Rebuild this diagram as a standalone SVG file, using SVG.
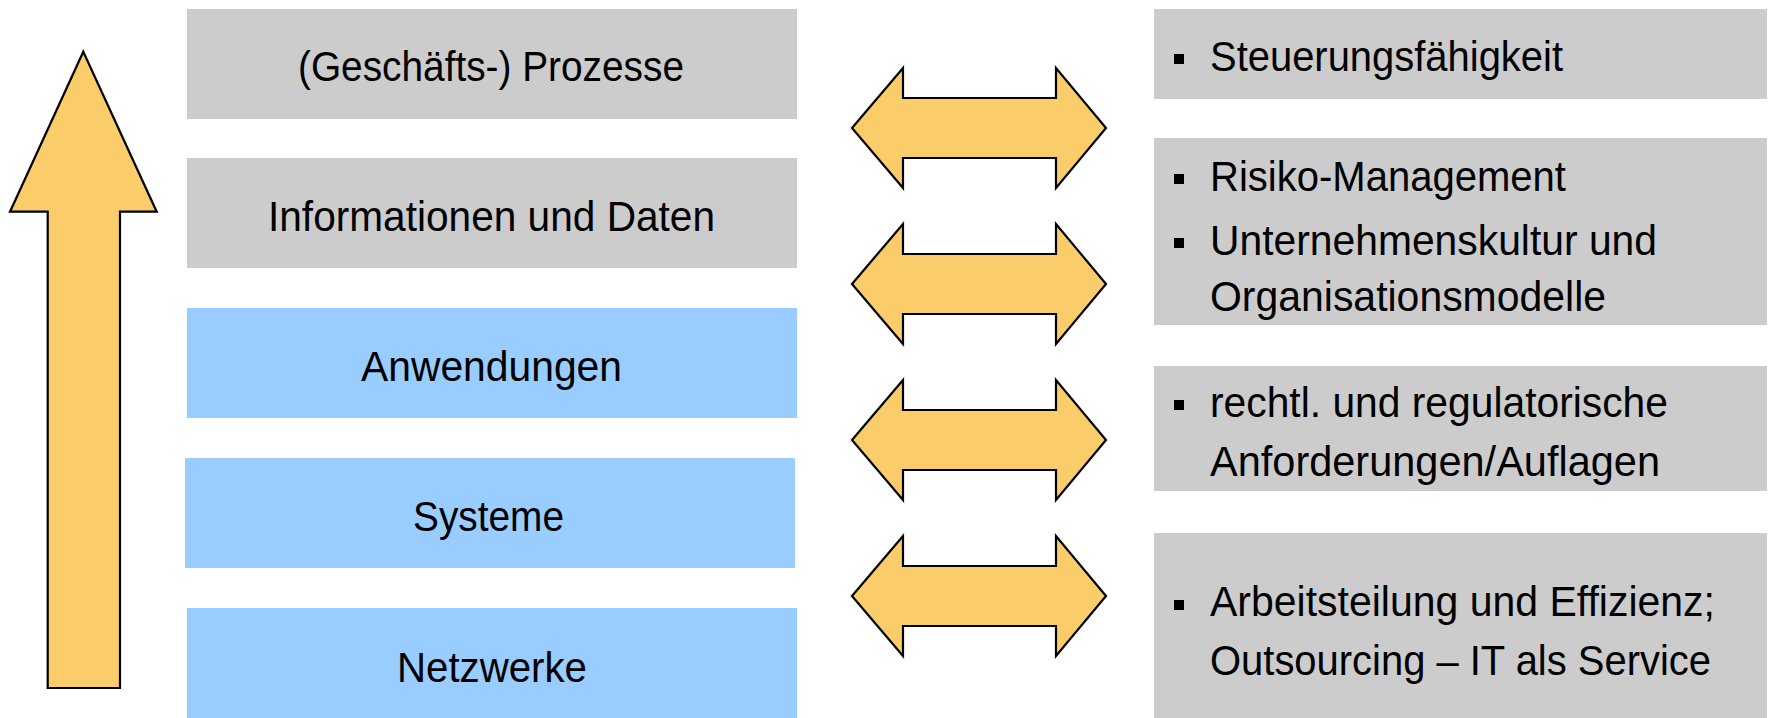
<svg xmlns="http://www.w3.org/2000/svg" width="1770" height="718" viewBox="0 0 1770 718">
<style>
.gray{fill:#CCCCCC}
.blue{fill:#99CCFF}
.arr{fill:#FBCD6A;stroke:#000;stroke-width:2.2;stroke-linejoin:miter}
.t{font-family:"Liberation Sans",Arial,sans-serif;font-size:42px;fill:#000}
.c{text-anchor:middle}
.b{fill:#000}
</style>
<rect width="1770" height="718" fill="#FFFFFF"/>
<g id="up-arrow">
<path class="arr" d="M83.3,51.7 L156.7,211.7 L120,211.7 L120,688 L47.7,688 L47.7,211.7 L10,211.7 Z"/>
</g>
<g id="prozesse">
<rect class="gray" x="187" y="9" width="610" height="110"/>
<text class="t c" x="491" y="80.5" textLength="386" lengthAdjust="spacingAndGlyphs">(Geschäfts-) Prozesse</text>
</g>
<g id="informationen">
<rect class="gray" x="187" y="158" width="610" height="110"/>
<text class="t c" x="491.5" y="231" textLength="447" lengthAdjust="spacingAndGlyphs">Informationen und Daten</text>
</g>
<g id="anwendungen">
<rect class="blue" x="187" y="308" width="610" height="110"/>
<text class="t c" x="491.5" y="380.5" textLength="261" lengthAdjust="spacingAndGlyphs">Anwendungen</text>
</g>
<g id="systeme">
<rect class="blue" x="185" y="458" width="610" height="110"/>
<text class="t c" x="488.5" y="530.5" textLength="151" lengthAdjust="spacingAndGlyphs">Systeme</text>
</g>
<g id="netzwerke">
<rect class="blue" x="187" y="608" width="610" height="110"/>
<text class="t c" x="492" y="681.5" textLength="190" lengthAdjust="spacingAndGlyphs">Netzwerke</text>
</g>
<g id="connectors">
<path class="arr" d="M852,128 L903,68 L903,98 L1056,98 L1056,68 L1106,128 L1056,188 L1056,158 L903,158 L903,188 Z"/>
<path class="arr" d="M852,284 L903,224 L903,254 L1056,254 L1056,224 L1106,284 L1056,344 L1056,314 L903,314 L903,344 Z"/>
<path class="arr" d="M852,440 L903,380 L903,410 L1056,410 L1056,380 L1106,440 L1056,500 L1056,470 L903,470 L903,500 Z"/>
<path class="arr" d="M852,596 L903,536 L903,566 L1056,566 L1056,536 L1106,596 L1056,656 L1056,626 L903,626 L903,656 Z"/>
</g>
<g id="steuerung">
<rect class="gray" x="1154" y="9" width="613" height="90"/>
<rect class="b" x="1174" y="54" width="10" height="10"/>
<text class="t" x="1210" y="70.5" textLength="353" lengthAdjust="spacingAndGlyphs">Steuerungsfähigkeit</text>
</g>
<g id="risiko">
<rect class="gray" x="1154" y="138" width="613" height="187"/>
<rect class="b" x="1174" y="174" width="10" height="10"/>
<text class="t" x="1210" y="190.5" textLength="356" lengthAdjust="spacingAndGlyphs">Risiko-Management</text>
<rect class="b" x="1174" y="238" width="10" height="10"/>
<text class="t" x="1210" y="254.5" textLength="447" lengthAdjust="spacingAndGlyphs">Unternehmenskultur und</text>
<text class="t" x="1210" y="311" textLength="396" lengthAdjust="spacingAndGlyphs">Organisationsmodelle</text>
</g>
<g id="recht">
<rect class="gray" x="1154" y="366" width="613" height="125"/>
<rect class="b" x="1174" y="400" width="10" height="10"/>
<text class="t" x="1210" y="416.5" textLength="458" lengthAdjust="spacingAndGlyphs">rechtl. und regulatorische</text>
<text class="t" x="1210" y="476" textLength="450" lengthAdjust="spacingAndGlyphs">Anforderungen/Auflagen</text>
</g>
<g id="arbeitsteilung">
<rect class="gray" x="1154" y="533" width="613" height="185"/>
<rect class="b" x="1174" y="600" width="10" height="10"/>
<text class="t" x="1210" y="616" textLength="505" lengthAdjust="spacingAndGlyphs">Arbeitsteilung und Effizienz;</text>
<text class="t" x="1210" y="674.5" textLength="501" lengthAdjust="spacingAndGlyphs">Outsourcing – IT als Service</text>
</g>
</svg>
